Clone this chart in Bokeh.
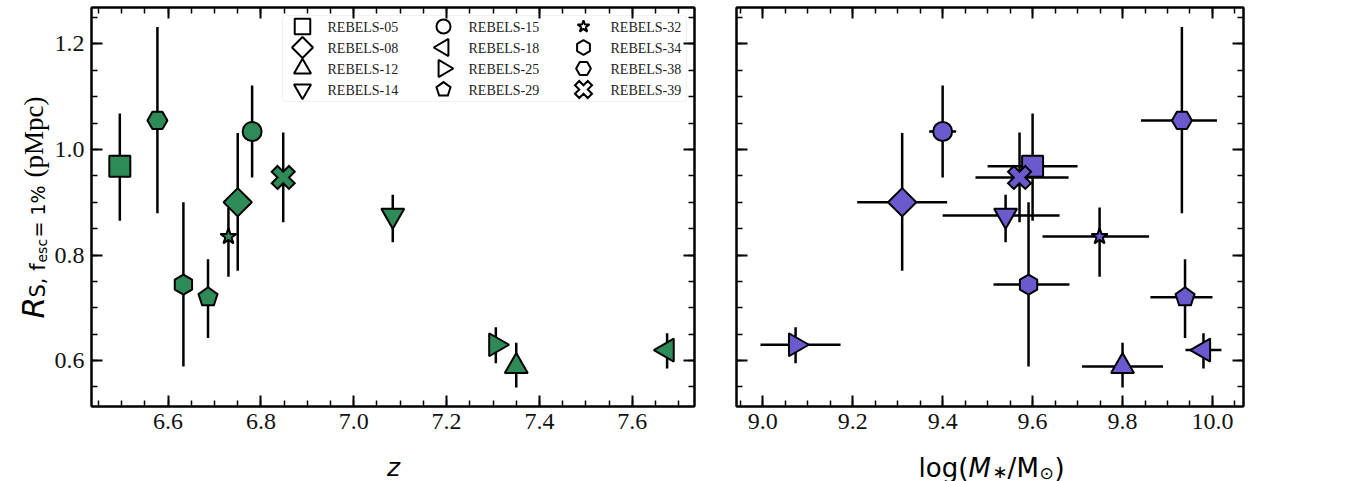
import numpy as np
from bokeh.plotting import figure
from bokeh.layouts import row, column, Spacer
from bokeh.models import (ColumnDataSource, LinearAxis, SingleIntervalTicker,
                          PrintfTickFormatter, BoxAnnotation, Range1d)
from bokeh.embed import file_html
from bokeh.resources import INLINE
from bokeh.core.properties import value

# ---------------- data ----------------
names = ["REBELS-05", "REBELS-08", "REBELS-12", "REBELS-14", "REBELS-15", "REBELS-18",
         "REBELS-25", "REBELS-29", "REBELS-32", "REBELS-34", "REBELS-38", "REBELS-39"]
marker_style = ["square", "diamond", "triangle", "inverted_triangle", "circle", "triangle_left",
                "triangle_right", "pentagon", "star", "hex_pointy", "hex_flat", "x_filled"]
redshift = [6.496, 6.750, 7.350, 7.084, 6.781, 7.675, 7.306, 6.686, 6.730, 6.633, 6.577, 6.848]
log_mass = [9.60, 9.31, 9.80, 9.54, 9.40, 9.98, 9.073, 9.939, 9.749, 9.591, 9.932, 9.571]
mass_err_lo = [0.10, 0.10, 0.09, 0.14, 0.03, 0.04, 0.078, 0.077, 0.127, 0.078, 0.091, 0.098]
mass_err_hi = [0.10, 0.10, 0.09, 0.12, 0.03, 0.04, 0.100, 0.061, 0.110, 0.091, 0.078, 0.109]
r_s = [0.968, 0.900, 0.589, 0.875, 1.034, 0.620, 0.630, 0.720, 0.835, 0.744, 1.055, 0.947]
r_err_lo = [0.103, 0.130, 0.040, 0.051, 0.087, 0.035, 0.035, 0.077, 0.076, 0.155, 0.176, 0.085]
r_err_hi = [0.100, 0.131, 0.045, 0.039, 0.087, 0.032, 0.033, 0.072, 0.055, 0.156, 0.177, 0.085]

z_range = (6.435, 7.734)
m_range = (8.9416, 10.069)
r_range = (0.513, 1.269)

GREEN = "#2E8B57"
PURPLE = "#6A5ACD"

# ---------------- layout constants (pixels) ----------------
H = 481
YS = 50            # width of the y-label strip
HM = 441           # height of the main panels
XH = H - HM        # height of the x-label strips
W1, W2 = 715 - YS, 636
FT = 7
FB = HM - 406
FL1, FR1 = 91 - YS, 21
FL2, FR2 = 21, 108
FH = HM - FT - FB
FW1 = W1 - FL1 - FR1
FW2 = W2 - FL2 - FR2

BSHAPES = {
    "square": ("square", 0.0, 21),
    "diamond": ("square", np.pi / 4, 20),
    "triangle": ("triangle", 0.0, 23),
    "inverted_triangle": ("inverted_triangle", 0.0, 23),
    "circle": ("circle", 0.0, 19),
    "triangle_left": ("triangle", np.pi / 2, 23),
    "triangle_right": ("triangle", -np.pi / 2, 23),
    "star": ("star", 0.0, 17),
    "hex_pointy": ("hex", np.pi / 2, 20),
    "hex_flat": ("hex", 0.0, 20),
}
POLY_SIZE = {"pentagon": 10.0, "x_filled": 11.5}
X_VERTS = [(-1, -2), (0, -1), (1, -2), (2, -1), (1, 0), (2, 1), (1, 2), (0, 1),
           (-1, 2), (-2, 1), (-1, 0), (-2, -1)]


def mapper(xr, yr, fl, fw, x0):
    def fx(px):
        return xr[0] + (px - x0 - fl) / fw * (xr[1] - xr[0])

    def fy(py):
        return yr[1] - (py - FT) / FH * (yr[1] - yr[0])
    return fx, fy


def poly(shape, cx, cy, r, sx, sy):
    if shape == "pentagon":
        ang = np.pi / 2 + np.arange(5) * 2 * np.pi / 5
        return list(cx + r * np.cos(ang) * sx), list(cy + r * np.sin(ang) * sy)
    u = r / 2.0
    return ([cx + vx * u * sx for vx, vy in X_VERTS], [cy + vy * u * sy for vx, vy in X_VERTS])


def style_axis(ax, show_labels):
    ax.ticker = SingleIntervalTicker(interval=0.2, num_minor_ticks=4)
    ax.formatter = PrintfTickFormatter(format="%.1f")
    ax.major_tick_in = 11
    ax.major_tick_out = 0
    ax.minor_tick_in = 6
    ax.minor_tick_out = 0
    ax.major_tick_line_width = 2
    ax.minor_tick_line_width = 1.5
    ax.major_tick_line_color = "black"
    ax.minor_tick_line_color = "black"
    ax.axis_line_width = 2
    ax.axis_line_color = "black"
    ax.major_label_text_font = "Liberation Serif"
    ax.major_label_text_font_size = "24px"
    ax.major_label_text_color = "#111111"
    ax.major_label_standoff = 7
    if not show_labels:
        ax.formatter = PrintfTickFormatter(format="")
        ax.major_label_text_font_size = "0px"
        ax.major_label_standoff = 0


def make_fig(xr, width, bl, br, show_y):
    p = figure(width=width, height=HM, x_range=Range1d(*xr), y_range=Range1d(*r_range),
               output_backend="svg", toolbar_location=None,
               min_border_left=bl, min_border_right=br, min_border_top=FT, min_border_bottom=FB)
    p.grid.visible = False
    p.outline_line_color = "black"
    p.outline_line_width = 2
    p.background_fill_color = "white"
    p.border_fill_color = "white"
    style_axis(p.xaxis[0], True)
    style_axis(p.yaxis[0], show_y)
    top = LinearAxis()
    style_axis(top, False)
    p.add_layout(top, "above")
    right = LinearAxis()
    style_axis(right, False)
    p.add_layout(right, "right")
    return p


def strip(w, h, xr, yr, bl, br, bt, bb):
    f = figure(width=w, height=h, x_range=Range1d(*xr), y_range=Range1d(*yr),
               output_backend="svg", toolbar_location=None, min_border=0,
               min_border_left=bl, min_border_right=br, min_border_top=bt, min_border_bottom=bb,
               x_axis_location=None, y_axis_location=None, title=None)
    f.grid.visible = False
    f.outline_line_color = None
    f.background_fill_color = "white"
    f.border_fill_color = "white"
    return f


def draw_points(p, xs, xlo, xhi, color, sx, sy):
    ylo = [r - e for r, e in zip(r_s, r_err_lo)]
    yhi = [r + e for r, e in zip(r_s, r_err_hi)]
    p.segment(x0=xs, y0=ylo, x1=xs, y1=yhi, line_color="black", line_width=2.5)
    if xlo is not None:
        p.segment(x0=xlo, y0=r_s, x1=xhi, y1=r_s, line_color="black", line_width=2.5)
    std = [i for i, s in enumerate(marker_style) if s in BSHAPES]
    src = ColumnDataSource(dict(
        x=[xs[i] for i in std], y=[r_s[i] for i in std],
        marker=[BSHAPES[marker_style[i]][0] for i in std],
        angle=[BSHAPES[marker_style[i]][1] for i in std],
        size=[BSHAPES[marker_style[i]][2] for i in std]))
    p.scatter(x="x", y="y", marker="marker", angle="angle", size="size", source=src,
              fill_color=color, line_color="black", line_width=2)
    pxs, pys = [], []
    for i, s in enumerate(marker_style):
        if s in POLY_SIZE:
            a, b = poly(s, xs[i], r_s[i], POLY_SIZE[s], sx, sy)
            pxs.append(a)
            pys.append(b)
    p.patches(xs=pxs, ys=pys, fill_color=color, line_color="black", line_width=2,
              line_join="miter")


# ---------------- left panel ----------------
p1 = make_fig(z_range, W1, FL1, FR1, True)
sx1 = (z_range[1] - z_range[0]) / FW1
sy = (r_range[1] - r_range[0]) / FH
draw_points(p1, redshift, None, None, GREEN, sx1, sy)
fx1, fy1 = mapper(z_range, r_range, FL1, FW1, YS)

# legend box
box = BoxAnnotation(left=fx1(282), right=fx1(686), top=fy1(15), bottom=fy1(101),
                    fill_color="white", fill_alpha=0.85, line_color="#cccccc", line_width=1.2,
                    border_radius=4, level="underlay")
p1.add_layout(box)

col_mx = [302, 443, 583]
col_tx = [327, 468, 610]
row_y = [26, 47, 68, 89]
leg_scale = 0.74
lx, ly, lm, la, ls, tx, ty = [], [], [], [], [], [], []
pxs, pys = [], []
for i, s in enumerate(marker_style):
    c, rr = divmod(i, 4)
    mx, my = fx1(col_mx[c]), fy1(row_y[rr])
    tx.append(fx1(col_tx[c]))
    ty.append(fy1(row_y[rr] + 1))
    if s in BSHAPES:
        lx.append(mx)
        ly.append(my)
        lm.append(BSHAPES[s][0])
        la.append(BSHAPES[s][1])
        ls.append(BSHAPES[s][2] * leg_scale)
    else:
        a, b = poly(s, mx, my, POLY_SIZE[s] * leg_scale, sx1, sy)
        pxs.append(a)
        pys.append(b)
p1.scatter(x=lx, y=ly, marker=lm, angle=la, size=ls, fill_color="white",
           line_color="black", line_width=2)
p1.patches(xs=pxs, ys=pys, fill_color="white", line_color="black", line_width=2,
           line_join="miter")
p1.text(x=tx, y=ty, text=names, text_font=value("Liberation Serif"), text_font_size="14px",
        text_baseline="middle", text_align="left", text_color="#222222")

# ---------------- right panel ----------------
p2 = make_fig(m_range, W2, FL2, FR2, False)
sx2 = (m_range[1] - m_range[0]) / FW2
mlo = [m - e for m, e in zip(log_mass, mass_err_lo)]
mhi = [m + e for m, e in zip(log_mass, mass_err_hi)]
draw_points(p2, log_mass, mlo, mhi, PURPLE, sx2, sy)
fx2, fy2 = mapper(m_range, r_range, FL2, FW2, 715)

# ---------------- axis-title strips ----------------
ys = strip(YS, HM, (0, YS), r_range, 0, 0, FT, FB)
ylab = [("R", "DejaVu Sans", "31px", "italic", 32, 318),
        ("S, f", "DejaVu Sans", "21px", "normal", 37, 297),
        ("esc", "DejaVu Sans", "14px", "normal", 41, 262),
        ("= 1%", "DejaVu Sans", "19px", "normal", 37, 237),
        ("(pMpc)", "Liberation Serif", "27px", "normal", 33, 177)]
for t, f, fs, st, bx, by in ylab:
    ys.text(x=[bx], y=[fy1(by)], text=[t], text_font=value(f), text_font_size=fs,
            text_font_style=st, angle=np.pi / 2, text_align="left",
            text_baseline="alphabetic", text_color="black")

xs1 = strip(W1, XH, z_range, (0, XH), FL1, FR1, 0, 0)
xs1.text(x=[fx1(393)], y=[H - 467], text=["z"], text_font=value("DejaVu Sans"),
         text_font_size="25px", text_font_style="italic", text_align="center",
         text_baseline="alphabetic", text_color="black")

xs2 = strip(W2, XH, m_range, (0, XH), FL2, FR2, 0, 0)
xlab = [("log(", "26px", "normal", 918, 467),
        ("M", "26px", "italic", 968, 467),
        ("\u2217", "18px", "normal", 992, 471),
        ("/", "26px", "normal", 1007, 467),
        ("M", "26px", "normal", 1016, 467),
        ("\u2299", "17px", "normal", 1039, 472),
        (")", "26px", "normal", 1054, 467)]
for t, fs, st, bx, by in xlab:
    xs2.text(x=[fx2(bx)], y=[H - by], text=[t], text_font=value("DejaVu Sans"),
             text_font_size=fs, text_font_style=st, text_align="left",
             text_baseline="alphabetic", text_color="black")

layout = column(row(ys, p1, p2), row(Spacer(width=YS, height=XH), xs1, xs2))
open("out.html", "w").write(file_html(layout, INLINE))
